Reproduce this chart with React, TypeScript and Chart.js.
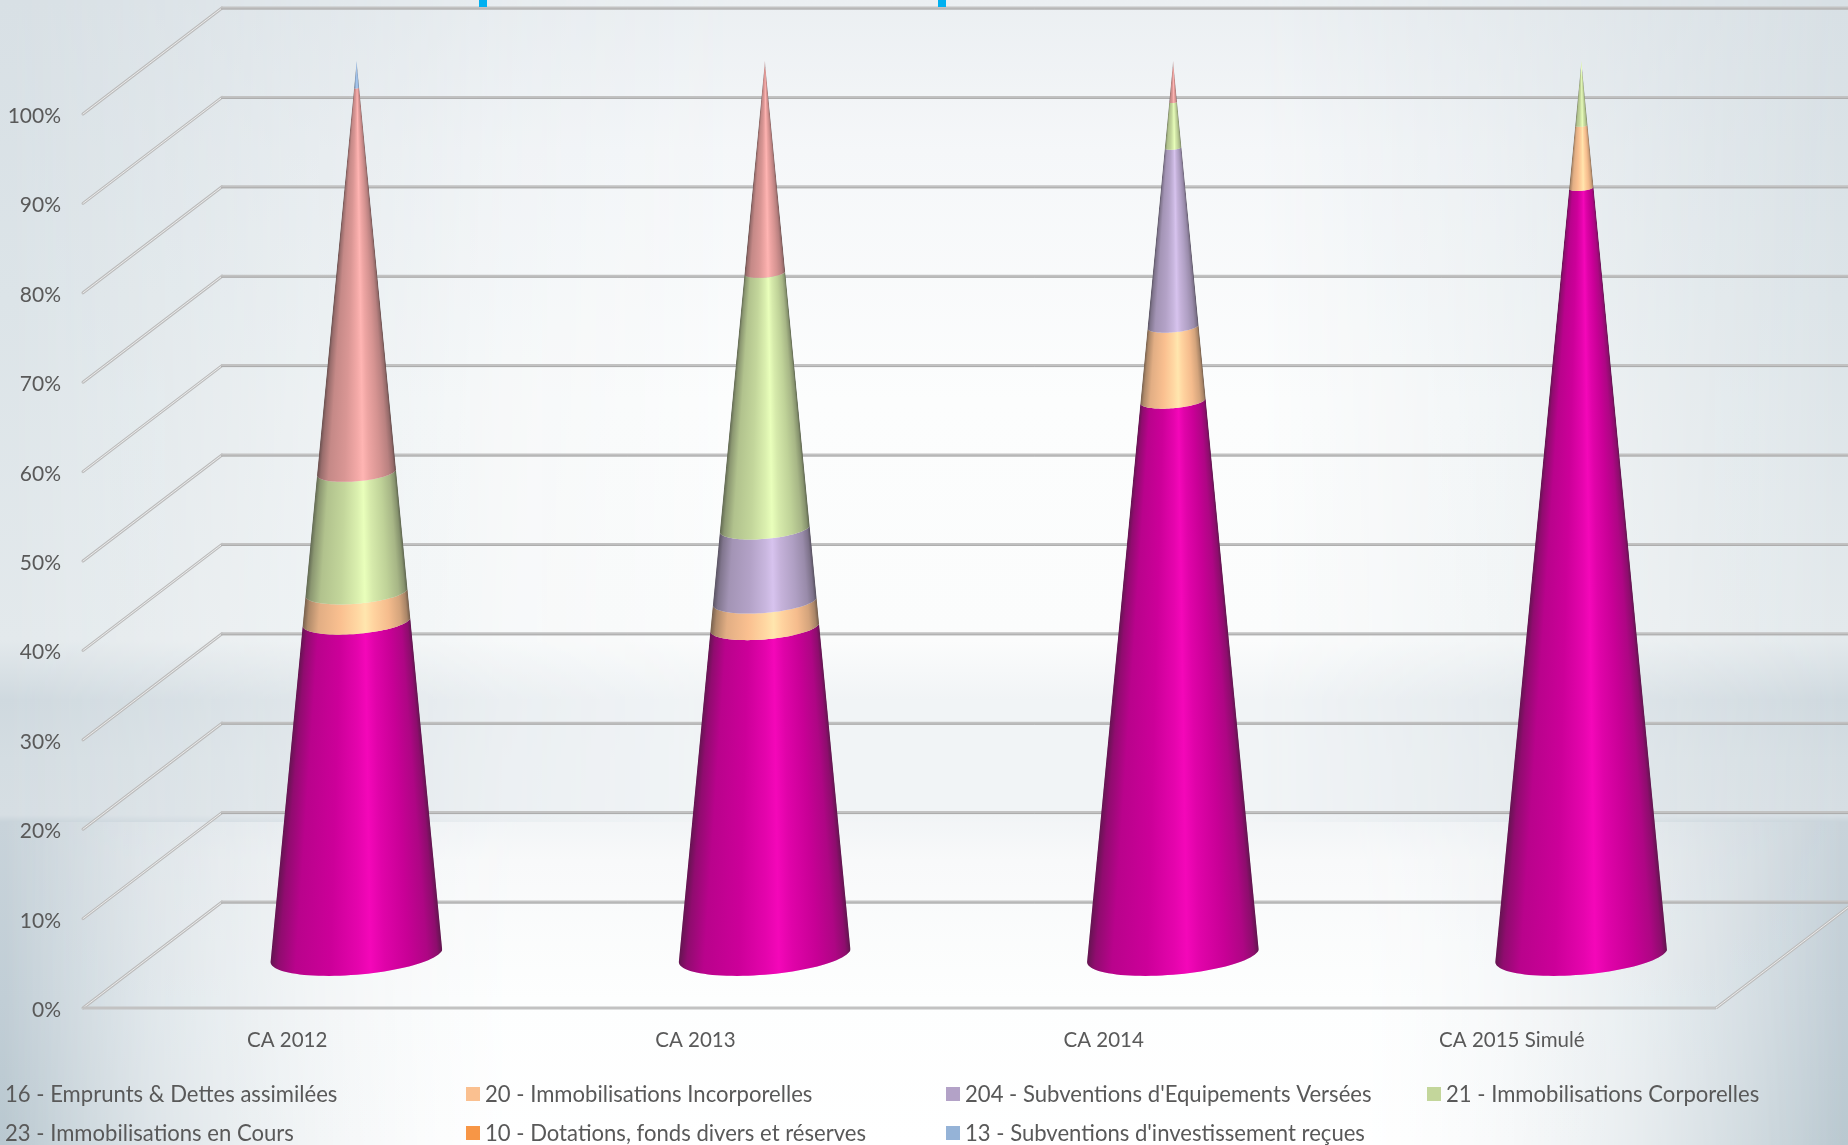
import React, { useEffect, useRef } from "react";
import { Chart, registerables } from "chart.js";

Chart.register(...registerables);

const categories = ["CA 2012", "CA 2013", "CA 2014", "CA 2015 Simulé"];
const emprunts = [0.373, 0.367, 0.62, 0.858];
const incorporelles = [0.033, 0.029, 0.083, 0.07];
const subventionsEquipement = [0, 0.081, 0.2, 0];
const corporelles = [0.134, 0.286, 0.051, 0.072];
const enCours = [0.43, 0.237, 0.046, 0];
const dotations = [0, 0, 0, 0];
const subventionsRecues = [0.03, 0, 0, 0];

const seriesNames = [
  "16 - Emprunts & Dettes assimilées",
  "20 - Immobilisations Incorporelles",
  "204 - Subventions d'Equipements Versées",
  "21 - Immobilisations Corporelles",
  "23 - Immobilisations en Cours",
  "10 - Dotations, fonds divers et réserves",
  "13 - Subventions d'investissement reçues",
];
const seriesValues = [emprunts, incorporelles, subventionsEquipement, corporelles, enCours, dotations, subventionsRecues];
const seriesColors = ["#cc0099", "#fac090", "#b3a2c7", "#c3d69b", "#d99694", "#f79646", "#95b3d7"];

const FONT = "Lato";
const TEXT = "#595959";
const DEPTH_X = 139;
const DEPTH_Y = 106;
const FLOOR_GLOW_TOP = 822;

// Vertical colour profiles of the backdrop: along the page edges and through the lit middle.
const edgeProfile: [number, string][] = [
  [0, "#d8e0e5"], [300, "#dce4e8"], [640, "#e3e9ec"], [700, "#cfd9df"], [760, "#d4dde2"],
  [815, "#d6dee3"], [822, "#c8d3da"], [1000, "#c1ced6"], [1145, "#b9c8d0"],
];
const middleProfile: [number, string][] = [
  [0, "#ebeff2"], [150, "#f5f7f9"], [400, "#fcfdfd"], [640, "#fbfcfc"], [700, "#f1f4f6"],
  [815, "#f1f4f6"], [860, "#f8f9fa"], [1000, "#fdfefe"], [1145, "#ffffff"],
];
const wallMask: [number, number][] = [
  [0, 0], [200, 0.3], [500, 0.8], [750, 1], [1250, 1], [1500, 0.65], [1848, 0],
];
const floorMask: [number, number][] = [
  [0, 0], [150, 0.38], [518, 0.96], [1355, 0.96], [1650, 0.42], [1848, 0],
];

const rgb = (hex: string) => [1, 3, 5].map((i) => parseInt(hex.slice(i, i + 2), 16));

// Light across the cone: u runs -1 (left edge) to 1 (right edge).
const lightStops = [
  [-1, 0.42], [-0.9, 0.68], [-0.7, 0.9], [-0.3, 1.0], [0.02, 1.1], [0.16, 1.16], [0.32, 1.08],
  [0.6, 0.98], [0.82, 0.84], [0.94, 0.66], [1, 0.42],
];
const shade = (c: number[], l: number) => {
  const m = c.map((v) => {
    if (l >= 1) return Math.min(255, v * l + 8 * (l - 1) * 6);
    const d = (1 - l) * 1.1;
    return v * (1 - d) + 60 * d * 0.6;
  });
  return `rgb(${m[0] | 0},${m[1] | 0},${m[2] | 0})`;
};

const verticalFill = (ctx: CanvasRenderingContext2D, height: number, stops: [number, string][]) => {
  const g = ctx.createLinearGradient(0, 0, 0, height);
  stops.forEach(([y, c]) => g.addColorStop(y / height, c));
  return g;
};

// Paints the lit middle faded sideways by the mask, limited to the rows from fromY down.
const paintLitLayer = (ctx: CanvasRenderingContext2D, width: number, height: number, maskStops: [number, number][], fromY: number) => {
  const layer = document.createElement("canvas");
  layer.width = width;
  layer.height = height;
  const lc = layer.getContext("2d") as CanvasRenderingContext2D;
  lc.fillStyle = verticalFill(lc, height, middleProfile);
  lc.fillRect(0, fromY, width, height - fromY);
  lc.globalCompositeOperation = "destination-in";
  const mask = lc.createLinearGradient(0, 0, width, 0);
  maskStops.forEach(([x, a]) => mask.addColorStop(x / width, `rgba(0,0,0,${a})`));
  lc.fillStyle = mask;
  lc.fillRect(0, 0, width, height);
  ctx.drawImage(layer, 0, 0);
};

const wallsAndFloor = {
  id: "wallsAndFloor",
  beforeDraw(chart: any) {
    const { ctx, width, height, chartArea, scales } = chart;
    ctx.save();
    ctx.fillStyle = verticalFill(ctx, height, edgeProfile);
    ctx.fillRect(0, 0, width, height);
    paintLitLayer(ctx, width, height, wallMask, 0);
    paintLitLayer(ctx, width, height, floorMask, FLOOR_GLOW_TOP);
    ctx.restore();

    const { left, right, bottom } = chartArea;
    const yScale = scales.y;
    ctx.save();
    // side wall rungs and back wall rules, one per y tick
    yScale.ticks.forEach((t: any) => {
      const y = yScale.getPixelForValue(t.value);
      ctx.lineCap = "round";
      ctx.strokeStyle = "#bcbcbc";
      ctx.lineWidth = 3;
      ctx.beginPath();
      ctx.moveTo(left, y);
      ctx.lineTo(left + DEPTH_X, y - DEPTH_Y);
      ctx.stroke();
      ctx.strokeStyle = "#ececec";
      ctx.lineWidth = 1;
      ctx.stroke();
      ctx.lineCap = "butt";
      ctx.strokeStyle = "#c2c2c2";
      ctx.lineWidth = 3;
      ctx.beginPath();
      ctx.moveTo(left + DEPTH_X - 1, y - DEPTH_Y);
      ctx.lineTo(width, y - DEPTH_Y);
      ctx.stroke();
      ctx.strokeStyle = "#acacac";
      ctx.lineWidth = 1;
      ctx.beginPath();
      ctx.moveTo(left + DEPTH_X - 1, y - DEPTH_Y + 1);
      ctx.lineTo(width, y - DEPTH_Y + 1);
      ctx.stroke();
    });
    // floor front edge and right edge
    ctx.strokeStyle = "#c2c2c2";
    ctx.lineWidth = 3;
    ctx.beginPath();
    ctx.moveTo(left, bottom);
    ctx.lineTo(right, bottom);
    ctx.stroke();
    ctx.strokeStyle = "#bcbcbc";
    ctx.beginPath();
    ctx.moveTo(right, bottom);
    ctx.lineTo(right + DEPTH_X, bottom - DEPTH_Y);
    ctx.stroke();
    ctx.strokeStyle = "#ececec";
    ctx.lineWidth = 1;
    ctx.stroke();

    // value labels of the side wall
    ctx.fillStyle = TEXT;
    ctx.font = `21px ${FONT}`;
    ctx.textAlign = "right";
    ctx.textBaseline = "alphabetic";
    yScale.ticks.forEach((t: any) => {
      ctx.fillText(t.label, left - 22, yScale.getPixelForValue(t.value) + 9);
    });

    // resize handles of the slide frame
    ctx.fillStyle = "#00b0f0";
    ctx.fillRect(479, 0, 8, 7);
    ctx.fillRect(938, 0, 8, 7);
    ctx.restore();
  },
};

const TILT_A = 0.229;
const TILT_B = -0.081;

// Replaces the flat bars with cones; each stacked bar element supplies its pixel range.
const coneBars = {
  id: "coneBars",
  beforeDatasetsDraw(chart: any) {
    const { ctx, scales } = chart;
    const top = scales.y.getPixelForValue(1);
    const zero = scales.y.getPixelForValue(0);
    const count = chart.data.labels.length;
    const offY = -DEPTH_Y / 2;
    for (let c = 0; c < count; c++) {
      const first = chart.getDatasetMeta(0).data[c];
      const cx = first.x + DEPTH_X / 2;
      const rx = first.width / 2;
      const apexY = top + offY;
      const baseY = zero + offY;
      const pt = (theta: number, f: number) => {
        const r = rx * (1 - f);
        const yc = baseY - (zero - top) * f;
        return [cx + r * Math.cos(theta), yc + r * (TILT_A * Math.sin(theta) + TILT_B * Math.cos(theta))];
      };
      chart.data.datasets.forEach((ds: any, d: number) => {
        const bar = chart.getDatasetMeta(d).data[c];
        if (!ds.data[c]) return;
        const f0 = (zero - bar.base) / (zero - top);
        const f1 = (zero - bar.y) / (zero - top);
        ctx.save();
        ctx.beginPath();
        const steps = 48;
        let minY = Infinity;
        let maxY = -Infinity;
        const trace = (theta: number, f: number, start: boolean) => {
          const p = pt(theta, f);
          start ? ctx.moveTo(p[0], p[1]) : ctx.lineTo(p[0], p[1]);
          minY = Math.min(minY, p[1]);
          maxY = Math.max(maxY, p[1]);
        };
        for (let i = 0; i <= steps; i++) trace((Math.PI * i) / steps, f0, i === 0);
        for (let i = steps; i >= 0; i--) trace((Math.PI * i) / steps, f1, false);
        ctx.closePath();
        ctx.clip();
        const col = rgb(ds.backgroundColor);
        const grad = ctx.createLinearGradient(-1, 0, 1, 0);
        lightStops.forEach(([u, l]) => grad.addColorStop((u + 1) / 2, shade(col, l)));
        ctx.fillStyle = grad;
        // one row at a time, the light stretched to the cone's width at that height
        for (let y = Math.floor(minY); y <= Math.ceil(maxY); y++) {
          const half = Math.max(0.5, (rx * (y + 0.5 - apexY)) / (baseY - apexY));
          ctx.save();
          ctx.translate(cx, y);
          ctx.scale(half, 1);
          ctx.fillRect(-1, 0, 2, 1.2);
          ctx.restore();
        }
        ctx.restore();
      });
    }
    return false;
  },
};

const LEGEND_COLUMNS = [5, 485, 965, 1446];
const LEGEND_ROWS = [1095, 1134];

const gridLegend = {
  id: "gridLegend",
  afterDraw(chart: any) {
    const { ctx } = chart;
    ctx.save();
    ctx.font = `22.1px ${FONT}`;
    ctx.textBaseline = "middle";
    chart.data.datasets.forEach((ds: any, i: number) => {
      const x = LEGEND_COLUMNS[i % 4];
      const y = LEGEND_ROWS[Math.floor(i / 4)];
      ctx.fillStyle = ds.backgroundColor;
      ctx.fillRect(x - 19, y - 8, 14, 14);
      ctx.fillStyle = TEXT;
      ctx.textAlign = "left";
      ctx.fillText(ds.label, x, y);
    });
    ctx.restore();
  },
};

export default function App() {
  const ref = useRef<HTMLCanvasElement>(null);
  useEffect(() => {
    const chart = new Chart(ref.current as HTMLCanvasElement, {
      type: "bar",
      data: {
        labels: categories,
        datasets: seriesNames.map((label, i) => ({
          label,
          data: seriesValues[i],
          backgroundColor: seriesColors[i],
          categoryPercentage: 1,
          barPercentage: 172 / 408,
        })),
      },
      options: {
        animation: false,
        responsive: false,
        layout: { padding: { left: 0, right: 132, top: 114, bottom: 0 } },
        plugins: { legend: { display: false }, tooltip: { enabled: false } },
        scales: {
          x: {
            stacked: true,
            grid: { display: false },
            border: { display: false },
            afterFit: (s: any) => {
              s.height = 137;
            },
            ticks: {
              font: { family: FONT, size: 20.5 },
              color: TEXT,
              padding: 12,
              maxRotation: 0,
              autoSkip: false,
            },
          },
          y: {
            stacked: true,
            min: 0,
            max: 1,
            grid: { display: false, drawTicks: false },
            border: { display: false },
            afterFit: (s: any) => {
              s.width = 83;
            },
            ticks: {
              display: false,
              stepSize: 0.1,
              callback: (v: any) => `${Math.round(Number(v) * 100)}%`,
            },
          },
        },
      },
      plugins: [wallsAndFloor, coneBars, gridLegend],
    } as any);
    return () => chart.destroy();
  }, []);
  return (
    <div style={{ position: "fixed", left: 0, top: 0, width: 1848, height: 1145 }}>
      <canvas ref={ref} width={1848} height={1145} style={{ display: "block" }} />
    </div>
  );
}
